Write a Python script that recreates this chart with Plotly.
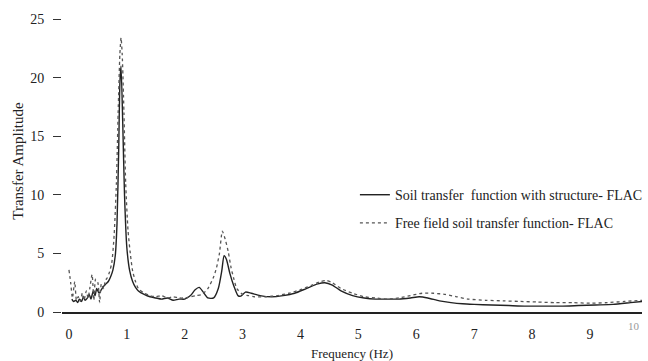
import plotly.graph_objects as go

# Free field soil transfer function (dotted)
free_f = [0.0,0.03,0.06,0.1,0.13,0.16,0.2,0.23,0.26,0.3,0.33,0.36,0.4,0.43,0.46,0.5,0.53,0.56,0.6,0.63,0.66,0.7,0.74,0.78,0.82,0.85,0.88,0.9,0.92,0.95,0.98,1.02,1.06,1.1,1.15,1.2,1.3,1.4,1.5,1.6,1.7,1.8,1.9,2.0,2.1,2.2,2.3,2.4,2.5,2.55,2.6,2.65,2.7,2.75,2.8,2.85,2.9,3.0,3.1,3.2,3.4,3.6,3.8,4.0,4.2,4.35,4.45,4.55,4.7,4.9,5.1,5.3,5.5,5.7,5.9,6.1,6.3,6.5,6.7,6.9,7.2,7.5,7.8,8.1,8.4,8.7,9.0,9.3,9.6,9.9]
free_v = [3.6,2.5,1.2,2.6,1.0,1.3,0.9,1.6,1.0,1.8,1.2,2.0,3.2,1.0,2.8,2.5,0.8,2.4,2.0,2.7,2.9,3.4,4.2,6.5,11,17,22,23.4,22,17,11,7,5,3.5,2.6,2.0,1.6,1.4,1.3,1.4,1.2,1.3,1.2,1.2,1.3,1.4,1.5,2.0,3.0,3.8,5.0,6.9,6.2,5.2,3.8,2.8,2.0,1.5,1.4,1.3,1.3,1.4,1.6,1.9,2.3,2.6,2.7,2.5,2.0,1.6,1.3,1.2,1.1,1.2,1.4,1.6,1.6,1.5,1.3,1.1,1.0,0.95,0.9,0.85,0.8,0.8,0.75,0.8,0.9,1.0]

# Soil transfer function with structure (solid)
str_f = [0.05,0.08,0.12,0.15,0.18,0.22,0.25,0.28,0.32,0.35,0.38,0.42,0.45,0.48,0.52,0.56,0.6,0.64,0.68,0.72,0.76,0.8,0.83,0.86,0.88,0.9,0.93,0.96,1.0,1.05,1.1,1.15,1.2,1.3,1.4,1.5,1.6,1.7,1.8,1.9,2.0,2.1,2.18,2.25,2.32,2.4,2.5,2.58,2.64,2.68,2.72,2.78,2.85,2.92,2.97,3.05,3.15,3.3,3.5,3.7,3.9,4.1,4.3,4.42,4.55,4.7,4.9,5.1,5.3,5.5,5.7,5.9,6.05,6.2,6.4,6.6,6.8,7.0,7.3,7.6,7.9,8.2,8.5,8.8,9.1,9.4,9.7,9.9]
str_v = [1.1,0.9,1.0,0.8,1.1,0.9,1.3,1.0,1.2,1.5,1.1,1.8,1.4,2.0,1.6,1.9,2.2,2.4,2.6,3.0,3.6,4.8,7.5,14,19.5,21,16,10,5.5,3.5,2.6,2.1,1.8,1.5,1.3,1.2,1.1,1.2,1.0,1.1,1.1,1.4,1.9,2.1,1.7,1.2,1.2,2.0,3.5,4.8,4.5,3.3,2.2,1.4,1.35,1.7,1.6,1.4,1.3,1.4,1.6,2.0,2.4,2.5,2.3,1.8,1.4,1.2,1.1,1.1,1.1,1.2,1.3,1.2,0.95,0.8,0.7,0.65,0.6,0.55,0.5,0.5,0.5,0.55,0.6,0.65,0.8,0.9]

x_ticks = [0,1,2,3,4,5,6,7,8,9]
y_ticks = [0,5,10,15,20,25]

FONT = "Liberation Serif"

fig = go.Figure()
fig.add_trace(go.Scatter(
    x=str_f, y=str_v, mode="lines", legendgroup="a",
    name="Soil transfer  function with structure- FLAC",
    line=dict(color="#222222", width=1.4, shape="spline", smoothing=0.6)))
fig.add_trace(go.Scatter(
    x=free_f, y=free_v, mode="lines", legendgroup="b",
    name="Free field soil transfer function- FLAC",
    line=dict(color="#555555", width=1.3, dash="dot", shape="spline", smoothing=0.6)))

fig.update_layout(
    width=648, height=361,
    margin=dict(l=62, r=0, t=10, b=49),
    paper_bgcolor="white", plot_bgcolor="white",
    font=dict(family=FONT, size=14, color="#222222"),
    showlegend=True,
    legend=dict(x=0.505, y=0.44, xanchor="left", yanchor="top",
                bgcolor="rgba(0,0,0,0)", font=dict(family=FONT, size=14, color="#222222"),
                itemwidth=30, tracegroupgap=7, traceorder="grouped"),
    xaxis=dict(range=[-0.12, 9.9], tickvals=x_ticks, ticktext=[str(v) for v in x_ticks],
               showgrid=False, zeroline=False, showline=True, linecolor="#222222", linewidth=1.5,
               ticks="", ticklabelstandoff=8, tickfont=dict(size=14),
               title=dict(text="Frequency (Hz)", font=dict(family=FONT, size=13), standoff=8)),
    yaxis=dict(range=[0, 25.77], tickvals=y_ticks, ticktext=[str(v) for v in y_ticks],
               showgrid=False, zeroline=False, showline=False,
               ticks="outside", ticklen=8, tickcolor="#333333", tickwidth=1.2,
               ticklabelstandoff=6, tickfont=dict(size=14),
               title=dict(text="Transfer Amplitude", font=dict(family=FONT, size=15), standoff=2)),
    annotations=[dict(text="10", xref="paper", yref="paper", x=1.0, y=0, xanchor="right",
                      yanchor="top", yshift=-6, showarrow=False,
                      font=dict(family=FONT, size=11, color="#999999"))],
)

fig.write_html("out.html")
